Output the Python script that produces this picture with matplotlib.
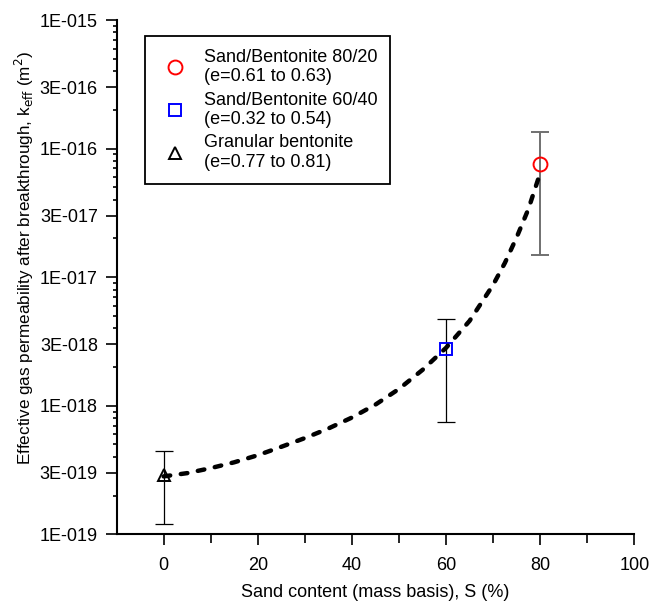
import matplotlib
matplotlib.use("Agg")
import matplotlib.pyplot as plt
from matplotlib.ticker import FixedLocator, FixedFormatter, LogLocator, NullFormatter
from matplotlib.lines import Line2D

plt.rcParams['font.family'] = ['Liberation Sans', 'DejaVu Sans']

# ---- data ----
labels = ["Sand/Bentonite 80/20\n(e=0.61 to 0.63)",
          "Sand/Bentonite 60/40\n(e=0.32 to 0.54)",
          "Granular bentonite\n(e=0.77 to 0.81)"]
sand = [80, 60, 0]
k_eff = [7.6e-17, 2.75e-18, 2.89e-19]
k_upper = [1.35e-16, 4.72e-18, 4.47e-19]
k_lower = [1.49e-17, 7.5e-19, 1.2e-19]

curve_s = [0, 5, 10, 15, 20, 25, 30, 35, 40, 45, 50, 55, 60, 65, 70, 72.5, 75, 77.5, 80]
curve_k = [2.82e-19, 2.99e-19, 3.27e-19, 3.63e-19, 4.12e-19, 4.79e-19, 5.60e-19,
           6.65e-19, 8.09e-19, 1.02e-18, 1.35e-18, 1.90e-18, 2.82e-18, 4.57e-18,
           8.71e-18, 1.29e-17, 2.04e-17, 3.39e-17, 6.46e-17]

ytick_vals = [1e-19, 3e-19, 1e-18, 3e-18, 1e-17, 3e-17, 1e-16, 3e-16, 1e-15]
ytick_labels = ["1E-019", "3E-019", "1E-018", "3E-018", "1E-017", "3E-017",
                "1E-016", "3E-016", "1E-015"]
xtick_vals = [0, 20, 40, 60, 80, 100]

# ---- figure ----
fig = plt.figure(figsize=(6.51, 6.01), dpi=100)
ax = fig.add_axes([0.179, 0.111, 0.7954, 0.8557])
ax.set_yscale('log')
ax.set_xlim(-10, 100)
ax.set_ylim(1e-19, 1e-15)

styles = [dict(marker='o', color='red', ms=10, ecol='#707070', elw=1.4),
          dict(marker='s', color='blue', ms=8.5, ecol='black', elw=0.9),
          dict(marker='^', color='black', ms=8.5, ecol='black', elw=0.9)]

handles = []
for s, k, hi, lo, st in zip(sand, k_eff, k_upper, k_lower, styles):
    ax.errorbar([s], [k], yerr=[[k - lo], [hi - k]], fmt='none',
                ecolor=st['ecol'], elinewidth=st['elw'], capsize=6.5,
                capthick=st['elw'], zorder=2)
    ax.plot([s], [k], linestyle='none', marker=st['marker'], ms=st['ms'],
            mfc='none', mec=st['color'], mew=1.4, zorder=3)
    handles.append(Line2D([], [], linestyle='none', marker=st['marker'],
                          ms=st['ms'], mfc='none', mec=st['color'], mew=1.4))

ln, = ax.plot(curve_s, curve_k, color='black', lw=3.2, zorder=4,
              solid_capstyle='round', dash_capstyle='round')
ln.set_dashes((1.5, 2.4))

# spines
for sp in ['top', 'right']:
    ax.spines[sp].set_visible(False)
for sp in ['left', 'bottom']:
    ax.spines[sp].set_linewidth(1.5)

# ticks
ax.set_xticks(xtick_vals)
ax.set_xticks([10, 30, 50, 70, 90], minor=True)
ax.yaxis.set_major_locator(FixedLocator(ytick_vals))
ax.yaxis.set_major_formatter(FixedFormatter(ytick_labels))
ax.yaxis.set_minor_locator(LogLocator(base=10, subs=[2, 4, 5, 6, 7, 8, 9]))
ax.yaxis.set_minor_formatter(NullFormatter())
ax.tick_params(axis='both', which='major', direction='out', length=8, width=1.2,
               labelsize=13, color='black')
ax.tick_params(axis='y', which='major', pad=5.4)
ax.tick_params(axis='x', which='major', pad=8)
ax.tick_params(axis='x', which='minor', direction='out', length=6.5, width=1.2)
ax.tick_params(axis='y', which='minor', direction='out', length=3, width=1.2)

ax.set_xlabel("Sand content (mass basis), S (%)", fontsize=13, labelpad=7.8)
ax.set_ylabel(r"Effective gas permeability after breakthrough, k$_{\mathrm{eff}}$ (m$^2$)",
              fontsize=12.3)
ax.yaxis.set_label_coords(-0.155, 0.538)

leg = ax.legend(handles, labels, loc='upper left', bbox_to_anchor=(0.055, 0.969),
                borderaxespad=0, fancybox=False, edgecolor='black', fontsize=13,
                handletextpad=0.61, labelspacing=0.35, borderpad=0.7,
                handlelength=1.94, framealpha=1)
leg.get_frame().set_linewidth(1.3)

fig.savefig("out.png", dpi=100)
